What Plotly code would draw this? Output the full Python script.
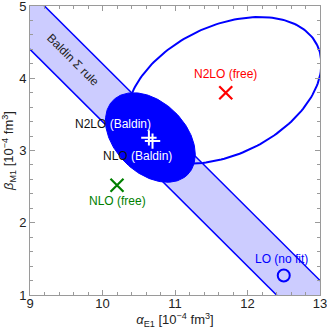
import numpy as np
import plotly.graph_objects as go

OutputFile = 'out.html'

# Baldin sum rule: alpha + beta = sum +/- err
baldin_sum = 13.8
baldin_err = 0.4

# error ellipses: center, semi-axes, angle (deg)
nlo_baldin_ellipse = {'cx': 10.66, 'cy': 3.18, 'a': 0.727, 'b': 0.489, 'angle': -45}
n2lo_free_ellipse = {'cx': 11.676, 'cy': 3.832, 'a': 1.43, 'b': 0.89, 'angle': 26}

# fit points
baldin_x = [10.64, 10.69]
baldin_y = [3.175, 3.13]
nlo_free = (10.2, 2.52)
n2lo_free = (11.70, 3.80)
lo_nofit = (12.50, 1.27)

x_range = [9, 13]
y_range = [1, 5]
x_ticks = [9, 10, 11, 12, 13]
y_ticks = [1, 2, 3, 4, 5]

BLUE = '#0000ff'
BAND = 'rgb(204,204,255)'
RED = '#ff0000'
GREEN = '#008000'
FONT = 'Liberation Sans, Arial, sans-serif'


def ellipse_xy(e, n=200):
    t = np.linspace(0, 2 * np.pi, n)
    th = np.radians(e['angle'])
    x = e['cx'] + e['a'] * np.cos(t) * np.cos(th) - e['b'] * np.sin(t) * np.sin(th)
    y = e['cy'] + e['a'] * np.cos(t) * np.sin(th) + e['b'] * np.sin(t) * np.cos(th)
    return x, y


def make_band():
    lo = baldin_sum - baldin_err
    hi = baldin_sum + baldin_err
    x0, x1 = x_range[0] - 1, x_range[1] + 1
    xs = [x0, x1, x1, x0, x0]
    ys = [hi - x0, hi - x1, lo - x1, lo - x0, hi - x0]
    traces = [
        go.Scatter(x=xs, y=ys, fill='toself', fillcolor=BAND, mode='lines',
                   line={'width': 0}, hoverinfo='skip'),
        go.Scatter(x=[x0, x1], y=[hi - x0, hi - x1], mode='lines',
                   line={'color': BLUE, 'width': 1.5}),
        go.Scatter(x=[x0, x1], y=[lo - x0, lo - x1], mode='lines',
                   line={'color': BLUE, 'width': 1.5}),
    ]
    return traces


def make_chart():
    fig = go.Figure()
    for tr in make_band():
        fig.add_trace(tr)

    # open ellipse (N2LO free) under the filled one
    ex, ey = ellipse_xy(n2lo_free_ellipse)
    fig.add_trace(go.Scatter(x=ex, y=ey, mode='lines',
                             line={'color': BLUE, 'width': 2}))
    ex, ey = ellipse_xy(nlo_baldin_ellipse)
    fig.add_trace(go.Scatter(x=ex, y=ey, mode='lines', fill='toself',
                             fillcolor=BLUE, line={'color': BLUE, 'width': 1}))

    # markers
    fig.add_trace(go.Scatter(x=baldin_x, y=baldin_y, mode='markers',
                             marker={'symbol': 'cross-thin', 'size': 11,
                                     'line': {'color': 'white', 'width': 2}}))
    fig.add_trace(go.Scatter(x=[n2lo_free[0]], y=[n2lo_free[1]], mode='markers',
                             marker={'symbol': 'x-thin', 'size': 13,
                                     'line': {'color': RED, 'width': 2.2}}))
    fig.add_trace(go.Scatter(x=[nlo_free[0]], y=[nlo_free[1]], mode='markers',
                             marker={'symbol': 'x-thin', 'size': 13,
                                     'line': {'color': GREEN, 'width': 2.2}}))
    fig.add_trace(go.Scatter(x=[lo_nofit[0]], y=[lo_nofit[1]], mode='markers',
                             marker={'symbol': 'circle-open', 'size': 12,
                                     'color': BLUE, 'line': {'width': 2}}))

    labels = [
        (10.145, 3.37, '<span style="color:#111">N2LO </span>'
                       '<span style="color:white">(Baldin)</span>', 0),
        (10.48, 2.92, '<span style="color:#111">NLO </span>'
                      '<span style="color:white">(Baldin)</span>', 0),
        (11.69, 4.055, f'<span style="color:{RED}">N2LO (free)</span>', 0),
        (10.21, 2.30, f'<span style="color:{GREEN}">NLO (free)</span>', 0),
        (12.47, 1.50, f'<span style="color:{BLUE}">LO (no fit)</span>', 0),
        (9.593, 4.25, '<span style="color:#222">Baldin Σ rule</span>', 45),
    ]
    for x, y, txt, ang in labels:
        fig.add_annotation(x=x, y=y, text=txt, showarrow=False, textangle=ang,
                           font={'family': FONT, 'size': 12})

    axis = dict(showline=True, linecolor='#9a9a9a', linewidth=1, mirror='ticks',
                ticks='inside', ticklen=5, tickcolor='#9a9a9a', showgrid=False,
                zeroline=False, automargin=False, ticklabeloverflow='allow',
                tickfont={'family': FONT, 'size': 13, 'color': '#222'},
                minor={'dtick': 0.2, 'ticks': 'inside', 'ticklen': 3,
                       'tickcolor': '#9a9a9a', 'showgrid': False})
    fig.update_xaxes(axis, range=x_range, tickvals=x_ticks, ticklabelstandoff=-4,
                     title={'text': '<i>α</i><sub>E1</sub> [10<sup>−4</sup> fm<sup>3</sup>]',
                            'font': {'family': FONT, 'size': 13, 'color': '#222'},
                            'standoff': 4})
    fig.update_yaxes(axis, range=y_range, tickvals=y_ticks,
                     title={'text': '<i>β</i><sub>M1</sub> [10<sup>−4</sup> fm<sup>3</sup>]',
                            'font': {'family': FONT, 'size': 13, 'color': '#222'},
                            'standoff': 2})
    fig.update_layout(width=327, height=332, template='none', showlegend=False,
                      margin={'l': 30, 'r': 7, 't': 6, 'b': 37},
                      plot_bgcolor='white', paper_bgcolor='white')
    return fig


if __name__ == "__main__":
    fig = make_chart()
    # drop the default page margin so the figure sits at the window corner
    fig.write_html(OutputFile, config={'displayModeBar': False},
                   post_script="document.body.style.margin='0';")
